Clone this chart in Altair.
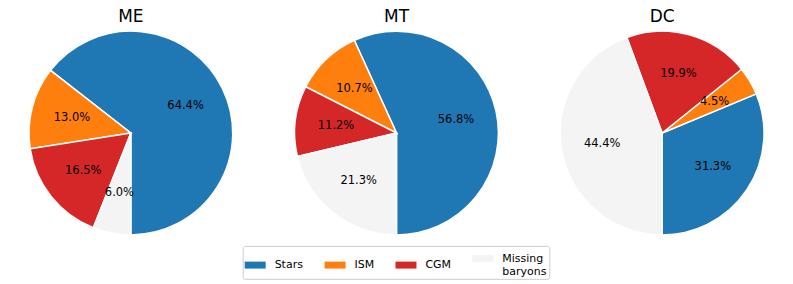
import math
import altair as alt
import pandas as pd

panels = ["ME", "MT", "DC"]
components = ["Stars", "ISM", "CGM", "Missing baryons"]
colors = ["#1f77b4", "#ff7f0e", "#d62728", "#f4f4f4"]
me_values = [64.4, 13.0, 16.5, 6.0]
mt_values = [56.8, 10.7, 11.2, 21.3]
dc_values = [31.3, 4.5, 19.9, 44.4]

values_by_panel = {"ME": me_values, "MT": mt_values, "DC": dc_values}
# stacking order clockwise from 6 o'clock (matplotlib draws counter-clockwise from the bottom)
stack_order = {"Missing baryons": 0, "CGM": 1, "ISM": 2, "Stars": 3}

FONT = "DejaVu Sans"


def panel(name):
    vals = values_by_panel[name]
    df = pd.DataFrame({
        "component": components,
        "value": vals,
        "label": [f"{v:.1f}%" for v in vals],
        "ord": [stack_order[c] for c in components],
    })
    base = alt.Chart(df)
    theta = alt.Theta("value:Q", stack="normalize",
                      scale=alt.Scale(range=[math.pi, 3 * math.pi]))
    arcs = base.mark_arc(stroke="white", strokeWidth=1.5, radius=102).encode(
        theta=theta,
        color=alt.Color(
            "component:N",
            scale=alt.Scale(domain=components, range=colors),
            sort=components,
            title=None,
            legend=alt.Legend(
                orient="none", legendX=235, legendY=215, direction="horizontal",
                columns=4, symbolType="M-1,-0.333H1V0.333H-1Z", symbolSize=441,
                symbolStrokeWidth=0, labelFont=FONT, labelFontSize=11,
                labelColor="black", labelOffset=9, columnPadding=21,
                labelExpr="datum.label == 'Missing baryons' ? ['Missing', 'baryons'] : datum.label",
                strokeColor="#cccccc", padding=2, cornerRadius=2, fillColor="white",
            ),
        ),
        order=alt.Order("ord:Q"),
    )
    text = base.mark_text(radius=61, font=FONT, fontSize=11.5, color="black").encode(
        theta=theta,
        text="label:N",
        order=alt.Order("ord:Q"),
    )
    return alt.layer(arcs, text).properties(
        width=246, height=204,
        title=alt.TitleParams(name, font=FONT, fontSize=17, fontWeight="normal",
                              color="black", offset=2),
    )


chart = alt.hconcat(*[panel(p) for p in panels], spacing=20).resolve_scale(
    theta="independent"
).configure_view(stroke=None).properties(padding=0)

chart.save("out.html", embed_options={"renderer": "svg", "actions": False})
